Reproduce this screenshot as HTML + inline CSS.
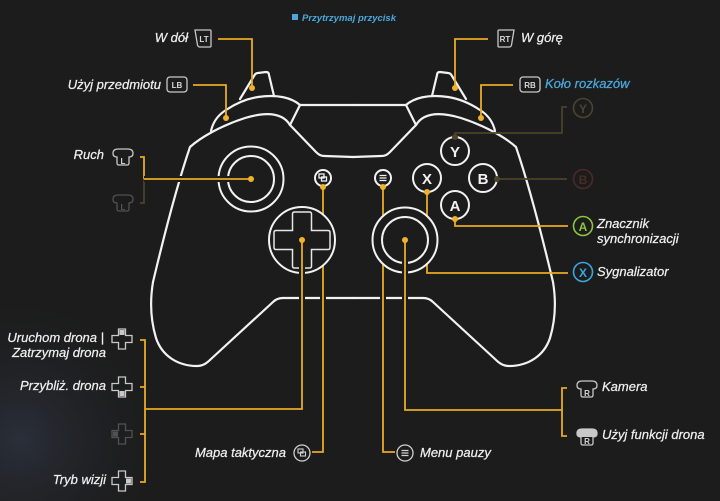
<!DOCTYPE html>
<html><head><meta charset="utf-8"><style>
html,body{margin:0;padding:0;background:#1c1c1c;}
svg{display:block;}
text{font-family:"Liberation Sans",sans-serif;font-style:italic;}
.lbl{fill:#eeeeee;font-size:13px;stroke:#eeeeee;stroke-width:0.25;}
.ic{fill:none;stroke:#c8c8c8;stroke-width:1.3;}
.ict{fill:#d8d8d8;font-size:8px;font-weight:bold;font-style:normal;text-anchor:middle;}
</style></head><body>
<svg width="720" height="501" viewBox="0 0 720 501" xmlns="http://www.w3.org/2000/svg">
<defs>
<radialGradient id="glow" cx="20" cy="440" r="160" gradientUnits="userSpaceOnUse">
<stop offset="0" stop-color="#2a2f3a"/><stop offset="1" stop-color="#1c1c1c" stop-opacity="0"/>
</radialGradient>
<g id="half">
<path d="M353,298 L283,298 C279,298 276,299 273,302 L211,359 C207,363 203,366 197,366 C178,366 162,356 156,338 C150,318 150,300 153,282 C163,240 177,185 190,147 C200,138 220,126 245,118 C265,112 282,112 290,125"/>
<path d="M290,125 L316,152 C319,155 321,156 325,156 L353,157"/>
<path d="M290,125 L300,105 L353,105"/>
<path d="M300,105 C292,98 278,94 258,97 C245,99 235,104 226,110 C218,115 213,122 211,131"/>
<path d="M240,99 L254,76 C255,74 256,73 258,73 L266,72 C268,72 269,73 269,75 L274,96"/>
</g>
</defs>
<rect width="720" height="501" fill="#1c1c1c"/>
<rect width="720" height="501" fill="url(#glow)"/>

<g fill="none" stroke="#f2f2f2" stroke-width="2.2" stroke-linecap="round" stroke-linejoin="round">
<use href="#half"/>
<use href="#half" transform="matrix(-1 0 0 1 706 0)"/>
</g>

<g fill="none" stroke="#1c1c1c" stroke-width="6">
<path d="M323,187 L323,452"/><path d="M383,187 L383,452"/><path d="M427,192 L427,273"/>
</g>
<g fill="none" stroke="#e8aa24" stroke-width="1.8">
<path d="M323,187 L323,452 L312,452"/>
<path d="M383,187 L383,452 L395,452"/>
<path d="M427,192 L427,273 L568,273"/>
<path d="M455,219 L455,226 L568,226"/>
<path d="M218,39 L252,39 L252,88"/>
<path d="M193,85 L226,85 L226,118"/>
<path d="M488,39 L455,39 L455,88"/>
<path d="M513,85 L481,85 L481,118"/>
<path d="M140,157 L144,157 L144,179"/>
<path d="M140,340 L145,340 L145,482 L140,482 M140,387 L145,387 M140,434 L145,434"/>
<path d="M567,388 L562,388 L562,436 L567,436"/>
</g>
<g fill="none" stroke="#4a4328" stroke-width="1.8">
<path d="M144,179 L144,203 L140,203"/>
<path d="M455,137 L455,133 L562,133 L562,107 L567,107"/>
<path d="M497,179 L567,179"/>
</g>

<g stroke="#f2f2f2" stroke-width="2" fill="#1c1c1c">
<circle cx="251" cy="179" r="32.5"/><circle cx="251" cy="179" r="23"/>
<circle cx="302" cy="240" r="33"/>
<circle cx="405" cy="240" r="32.5"/><circle cx="405" cy="240" r="23"/>
</g>
<path fill="none" stroke="#e6e6e6" stroke-width="1.5" d="M294.5,212 H309.5 Q311.5,212 311.5,214 V230.5 H328 Q330,230.5 330,232.5 V247.5 Q330,249.5 328,249.5 H311.5 V266 Q311.5,268 309.5,268 H294.5 Q292.5,268 292.5,266 V249.5 H276 Q274,249.5 274,247.5 V232.5 Q274,230.5 276,230.5 H292.5 V214 Q292.5,212 294.5,212 Z"/>

<g fill="none" stroke="#1c1c1c" stroke-width="6">
<path d="M302,250 L302,409"/><path d="M405,250 L405,410"/><path d="M240,179 L144,179"/>
</g>
<g fill="none" stroke="#e8aa24" stroke-width="1.8">
<path d="M251,179 L144,179"/>
<path d="M302,240 L302,409 L145,409"/>
<path d="M405,240 L405,410 L562,410"/>
</g>

<g stroke="#f2f2f2" stroke-width="2" fill="#1c1c1c">
<circle cx="455" cy="151" r="14"/><circle cx="427" cy="178" r="14"/>
<circle cx="483" cy="178" r="14"/><circle cx="455" cy="205" r="14"/>
<circle cx="323" cy="178" r="8"/><circle cx="383" cy="178" r="8"/>
</g>
<g fill="#f2f2f2" font-family="Liberation Sans, sans-serif" font-weight="bold" font-size="15" text-anchor="middle">
<text x="455" y="157" style="font-style:normal">Y</text>
<text x="427" y="184" style="font-style:normal">X</text>
<text x="483" y="184" style="font-style:normal">B</text>
<text x="455" y="211" style="font-style:normal">A</text>
</g>
<g fill="none" stroke="#f2f2f2" stroke-width="1.3">
<rect x="319" y="174" width="5" height="4"/><rect x="321.5" y="177" width="5" height="4"/>
<path d="M379.5,175.5 H386.5 M379.5,178 H386.5 M379.5,180.5 H386.5"/>
</g>

<g fill="#f0b22a">
<circle cx="252" cy="88" r="3"/><circle cx="226" cy="118" r="3"/>
<circle cx="455" cy="88" r="3"/><circle cx="481" cy="118" r="3"/>
<circle cx="251" cy="179" r="3"/><circle cx="302" cy="240" r="3"/>
<circle cx="405" cy="240" r="3"/><circle cx="323" cy="187" r="3"/>
<circle cx="383" cy="187" r="3"/><circle cx="427" cy="192" r="3"/>
<circle cx="455" cy="219" r="3"/>
</g>
<g fill="#4a4328"><circle cx="455" cy="137" r="3"/><circle cx="497" cy="179" r="3"/></g>

<rect x="292" y="14" width="6" height="6" fill="#4aa8dc"/>
<text x="302" y="21" fill="#4aa8dc" font-size="9.5" font-weight="bold">Przytrzymaj przycisk</text>

<path class="ic" d="M195,30 H210 Q211,30 211,31 V46 Q211,47 210,47 H200 Q198,47 197.5,45 Z"/>
<text class="ict" x="204" y="42">LT</text>
<path class="ic" d="M514,30 H499 Q498,30 498,31 V46 Q498,47 499,47 H509 Q511,47 511.5,45 Z"/>
<text class="ict" x="505" y="42">RT</text>
<rect class="ic" x="167" y="77" width="20" height="15" rx="3"/>
<text class="ict" x="177" y="88">LB</text>
<rect class="ic" x="520" y="77" width="20" height="15" rx="3"/>
<text class="ict" x="530" y="88">RB</text>

<path class="ic" d="M117,157 Q113,157 113,153.5 Q113,149 118,149 H128 Q133,149 133,153.5 Q133,157 129,157 V163 Q129,165 127,165 H119 Q117,165 117,163 Z"/>
<text class="ict" x="123" y="164">L</text>
<g opacity="0.3">
<path class="ic" d="M117,203 Q113,203 113,199.5 Q113,195 118,195 H128 Q133,195 133,199.5 Q133,203 129,203 V209 Q129,211 127,211 H119 Q117,211 117,209 Z"/>
<text class="ict" x="123" y="210">L</text>
</g>
<path class="ic" d="M581,389 Q577,389 577,385.5 Q577,381 582,381 H592 Q597,381 597,385.5 Q597,389 593,389 V395 Q593,397 591,397 H583 Q581,397 581,395 Z"/>
<text class="ict" x="587" y="396">R</text>
<path d="M581,437 Q577,437 577,433.5 Q577,429 582,429 H592 Q597,429 597,433.5 Q597,437 593,437 Z" fill="#c8c8c8"/>
<path class="ic" d="M581,437 Q577,437 577,433.5 Q577,429 582,429 H592 Q597,429 597,433.5 Q597,437 593,437 V443 Q593,445 591,445 H583 Q581,445 581,443 Z"/>
<text class="ict" x="587" y="444">R</text>

<g>
<path class="ic" d="M118.5,329 H125.5 V335.5 H132 V342.5 H125.5 V349 H118.5 V342.5 H112 V335.5 H118.5 Z"/>
<rect x="119.5" y="330" width="5" height="5" fill="#c8c8c8"/>
<path class="ic" d="M118.5,377 H125.5 V383.5 H132 V390.5 H125.5 V397 H118.5 V390.5 H112 V383.5 H118.5 Z"/>
<rect x="119.5" y="391" width="5" height="5" fill="#c8c8c8"/>
<g opacity="0.3">
<path class="ic" d="M118.5,424 H125.5 V430.5 H132 V437.5 H125.5 V444 H118.5 V437.5 H112 V430.5 H118.5 Z"/>
<rect x="113" y="431.5" width="5" height="5" fill="#c8c8c8"/>
</g>
<path class="ic" d="M118.5,471 H125.5 V477.5 H132 V484.5 H125.5 V491 H118.5 V484.5 H112 V477.5 H118.5 Z"/>
<rect x="126" y="478.5" width="5" height="5" fill="#c8c8c8"/>
</g>

<circle cx="302" cy="453" r="8" fill="none" stroke="#d0d0d0" stroke-width="1.3"/>
<rect x="298" y="449" width="5" height="4" fill="none" stroke="#d0d0d0" stroke-width="1.1"/>
<rect x="300.5" y="452" width="5" height="4" fill="none" stroke="#d0d0d0" stroke-width="1.1"/>
<circle cx="405" cy="453" r="8" fill="none" stroke="#d0d0d0" stroke-width="1.3"/>
<path d="M401.5,450.5 H408.5 M401.5,453 H408.5 M401.5,455.5 H408.5" stroke="#d0d0d0" stroke-width="1.2"/>

<circle cx="583" cy="108" r="9.5" fill="none" stroke="#4a4530" stroke-width="1.6"/>
<text x="583" y="113" fill="#4a4530" font-size="12" font-weight="bold" text-anchor="middle" style="font-style:normal">Y</text>
<circle cx="583" cy="179" r="9.5" fill="none" stroke="#4a2b28" stroke-width="1.6"/>
<text x="583" y="184" fill="#4a2b28" font-size="12" font-weight="bold" text-anchor="middle" style="font-style:normal">B</text>
<circle cx="583" cy="226" r="9.5" fill="none" stroke="#8cc63f" stroke-width="1.6"/>
<text x="583" y="231" fill="#8cc63f" font-size="12" font-weight="bold" text-anchor="middle" style="font-style:normal">A</text>
<circle cx="583" cy="272" r="9.5" fill="none" stroke="#3aa7e0" stroke-width="1.6"/>
<text x="583" y="277" fill="#3aa7e0" font-size="12" font-weight="bold" text-anchor="middle" style="font-style:normal">X</text>

<text class="lbl" x="188" y="42" text-anchor="end">W dół</text>
<text class="lbl" x="161" y="89" text-anchor="end">Użyj przedmiotu</text>
<text class="lbl" x="104" y="159" text-anchor="end">Ruch</text>
<text class="lbl" x="521" y="42">W górę</text>
<text x="545" y="88" font-size="13" fill="#4aa8dc" stroke="#4aa8dc" stroke-width="0.25">Koło rozkazów</text>
<text class="lbl" x="597" y="228">Znacznik</text>
<text class="lbl" x="597" y="243">synchronizacji</text>
<text class="lbl" x="597" y="276">Sygnalizator</text>
<text class="lbl" x="602" y="391">Kamera</text>
<text class="lbl" x="602" y="439">Użyj funkcji drona</text>
<text class="lbl" x="420" y="457">Menu pauzy</text>
<text class="lbl" x="286" y="457" text-anchor="end">Mapa taktyczna</text>
<text class="lbl" x="104" y="342" text-anchor="end">Uruchom drona |</text>
<text class="lbl" x="106" y="357" text-anchor="end">Zatrzymaj drona</text>
<text class="lbl" x="106" y="390" text-anchor="end">Przybliż. drona</text>
<text class="lbl" x="106" y="484" text-anchor="end">Tryb wizji</text>
</svg>
</body></html>
